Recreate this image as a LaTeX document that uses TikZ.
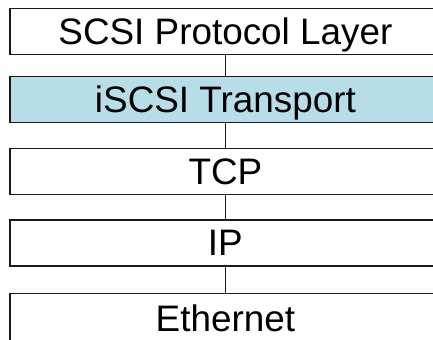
\documentclass[tikz,border=0pt]{standalone}
\usepackage{fontspec}
\setmainfont{Liberation Sans}
\definecolor{layerblue}{HTML}{B7DDE8}
\begin{document}
\begin{tikzpicture}[x=1bp,y=-1bp,
  layer/.style={draw=black!90, line width=1.8bp, fill=white,
    minimum width=431bp, minimum height=46bp, inner sep=0pt,
    anchor=north west, font=\fontsize{37}{40}\selectfont,
    text height=26.6bp, text depth=1bp},
  link/.style={draw=black!90, line width=1.6bp}]
  \useasboundingbox (0,0) rectangle (433,339);
  \clip (0,0) rectangle (433,339);
  % protocol stack, top to bottom
  \node[layer] (scsi) at (9,7.5) {SCSI Protocol Layer};
  \node[layer, fill=layerblue] (iscsi) at (9,75.5) {iSCSI Transport};
  \node[layer] (tcp) at (9,147.5) {TCP};
  \node[layer] (ip) at (9,219) {IP};
  % the lowest layer runs off the bottom edge
  \node[layer, minimum height=60bp, text depth=10bp] (eth) at (9,292.5) {Ethernet};
  % links between adjacent layers
  \draw[link] (scsi.south) -- (iscsi.north);
  \draw[link] (iscsi.south) -- (tcp.north);
  \draw[link] (tcp.south) -- (ip.north);
  \draw[link] (ip.south) -- (eth.north);
\end{tikzpicture}
\end{document}
